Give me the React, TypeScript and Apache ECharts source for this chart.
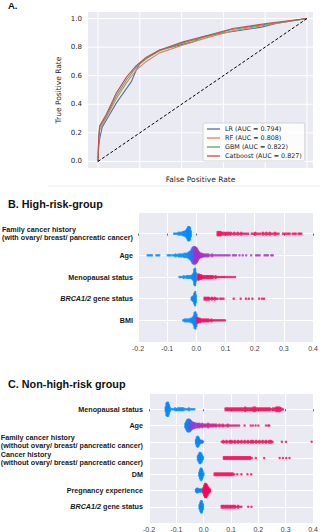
import React, { useEffect, useRef } from 'react';
import * as echarts from 'echarts';

// ---------- Panel A: ROC curves ----------
const ROC_NAMES = ['LR (AUC = 0.794)', 'RF (AUC = 0.808)', 'GBM (AUC = 0.822)', 'Catboost (AUC = 0.827)'];
const ROC_COLORS = ['#4C72B0', '#DD8452', '#55A868', '#C44E52'];
const ROC_TICKS = [0, 0.2, 0.4, 0.6, 0.8, 1.0];

const LR_FPR = [0, 0.003, 0.008, 0.02, 0.04, 0.088, 0.136, 0.16, 0.183, 0.2, 0.231, 0.295, 0.39, 0.455, 0.502, 0.582, 0.74, 0.788, 0.852, 1];
const LR_TPR = [0, 0.1, 0.16, 0.24, 0.29, 0.41, 0.51, 0.56, 0.64, 0.686, 0.72, 0.78, 0.814, 0.837, 0.872, 0.895, 0.93, 0.942, 0.965, 1];

const RF_FPR = [0, 0.003, 0.008, 0.04, 0.088, 0.136, 0.183, 0.231, 0.295, 0.407, 0.518, 0.646, 0.805, 1];
const RF_TPR = [0, 0.15, 0.22, 0.31, 0.44, 0.55, 0.64, 0.7, 0.76, 0.815, 0.865, 0.915, 0.955, 1];

const GBM_FPR = [0, 0.003, 0.008, 0.04, 0.088, 0.136, 0.183, 0.231, 0.295, 0.407, 0.518, 0.646, 0.805, 1];
const GBM_TPR = [0, 0.16, 0.24, 0.32, 0.46, 0.57, 0.66, 0.72, 0.775, 0.83, 0.875, 0.925, 0.96, 1];

const CAT_FPR = [0, 0.003, 0.008, 0.04, 0.088, 0.136, 0.183, 0.231, 0.295, 0.407, 0.518, 0.646, 0.805, 1];
const CAT_TPR = [0, 0.17, 0.25, 0.33, 0.48, 0.59, 0.67, 0.73, 0.78, 0.837, 0.88, 0.93, 0.965, 1];

// ---------- Panels B and C: SHAP beeswarms ----------
// Each point: [shap value, number of stacked dots, feature value 0 (low) .. 1 (high)]
const HIGH_FEATURES = [
  'Family cancer history\n(with ovary/ breast/ pancreatic cancer)',
  'Age',
  'Menopausal status',
  'BRCA1/2 gene status',
  'BMI',
];

const HIGH_FAMILY = [
  [-0.076, 1, 0], [-0.071, 1, 0], [-0.066, 1, 0], [-0.061, 2, 0], [-0.056, 2, 0], [-0.051, 2, 0],
  [-0.046, 3, 0], [-0.042, 3, 0], [-0.038, 4, 0], [-0.034, 5, 0], [-0.031, 7, 0], [-0.028, 9, 0],
  [-0.025, 9, 0], [-0.022, 8, 0], [-0.019, 4, 0],
  [0.073, 3, 1], [0.078, 3, 1], [0.083, 3, 1], [0.088, 2, 1], [0.094, 2, 1], [0.1, 2, 1], [0.106, 2, 1],
  [0.112, 2, 1], [0.118, 2, 1], [0.124, 1, 1], [0.13, 2, 1], [0.136, 1, 1], [0.142, 2, 1], [0.148, 1, 1],
  [0.154, 2, 1], [0.16, 1, 1], [0.166, 1, 1], [0.172, 1, 1], [0.178, 1, 1], [0.19, 1, 1], [0.196, 1, 1],
  [0.202, 2, 1], [0.208, 1, 1], [0.214, 1, 1], [0.22, 1, 1], [0.228, 2, 1], [0.234, 1, 1], [0.24, 2, 1],
  [0.246, 1, 1], [0.252, 2, 1], [0.258, 1, 1], [0.264, 1, 1], [0.27, 2, 1], [0.276, 1, 1], [0.282, 1, 1],
  [0.297, 1, 1], [0.303, 1, 1], [0.309, 1, 1], [0.315, 1, 1], [0.32, 1, 1], [0.33, 1, 1], [0.336, 1, 1],
  [0.341, 1, 1], [0.35, 1, 1], [0.355, 1, 1], [0.36, 1, 1],
];

const HIGH_AGE = [
  [-0.167, 1, 0], [-0.162, 1, 0], [-0.157, 1, 0], [-0.152, 1, 0], [-0.137, 1, 0], [-0.132, 1, 0], [-0.127, 1, 0],
  [-0.098, 1, 0], [-0.093, 1, 0], [-0.088, 1, 0],
  [-0.081, 1, 0], [-0.076, 1, 0], [-0.071, 2, 0], [-0.066, 1, 0], [-0.061, 2, 0],
  [-0.056, 2, 0], [-0.051, 2, 0], [-0.046, 2, 0], [-0.041, 3, 0], [-0.036, 3, 0], [-0.031, 3, 0.05],
  [-0.027, 4, 0.05], [-0.023, 5, 0.1], [-0.019, 6, 0.1], [-0.016, 8, 0.15], [-0.013, 10, 0.2],
  [-0.01, 11, 0.3], [-0.007, 11, 0.4], [-0.004, 11, 0.5], [-0.001, 10, 0.55], [0.002, 9, 0.6],
  [0.005, 7, 0.6], [0.008, 5, 0.6], [0.011, 4, 0.6], [0.015, 3, 0.6], [0.019, 3, 0.6], [0.023, 2, 0.6],
  [0.027, 2, 0.6], [0.032, 2, 0.6], [0.037, 2, 0.6], [0.042, 2, 0.6], [0.048, 1, 0.6], [0.054, 2, 0.6],
  [0.06, 1, 0.6], [0.066, 1, 0.6], [0.072, 1, 0.6], [0.078, 1, 0.6], [0.084, 1, 0.6], [0.09, 1, 0.6],
  [0.096, 1, 0.6], [0.102, 1, 0.6], [0.108, 1, 0.6], [0.114, 1, 0.6],
  [0.125, 1, 0.6], [0.13, 1, 0.6], [0.136, 1, 0.6], [0.148, 1, 0.6], [0.159, 1, 0.6], [0.171, 1, 0.6],
  [0.188, 1, 0.6], [0.205, 1, 0.6], [0.211, 1, 0.6], [0.217, 1, 0.6], [0.234, 1, 0.6], [0.24, 1, 0.6],
  [0.245, 1, 0.6], [0.257, 1, 0.6], [0.262, 1, 0.6],
];

const HIGH_MENOPAUSE = [
  [-0.058, 1, 0], [-0.053, 1, 0], [-0.048, 1, 0], [-0.043, 2, 0], [-0.038, 1, 0], [-0.033, 2, 0],
  [-0.028, 2, 0], [-0.023, 2, 0], [-0.018, 2, 0], [-0.014, 3, 0], [-0.01, 5, 0], [-0.007, 10, 0],
  [-0.004, 11, 0], [-0.002, 6, 0],
  [0.005, 4, 1], [0.009, 4, 1], [0.013, 3, 1], [0.017, 3, 1], [0.021, 2, 1], [0.026, 2, 1], [0.031, 2, 1],
  [0.036, 2, 1], [0.041, 2, 1], [0.046, 2, 1], [0.051, 2, 1], [0.056, 2, 1], [0.061, 1, 1], [0.066, 2, 1],
  [0.071, 1, 1], [0.076, 1, 1], [0.081, 1, 1], [0.086, 1, 1], [0.091, 1, 1], [0.096, 1, 1], [0.101, 1, 1],
  [0.107, 1, 1], [0.113, 1, 1], [0.119, 1, 1], [0.126, 1, 1], [0.133, 1, 1],
];

const HIGH_BRCA = [
  [-0.016, 2, 0], [-0.013, 3, 0], [-0.01, 4, 0], [-0.007, 7, 0], [-0.004, 9, 0], [-0.002, 5, 0],
  [0.028, 2, 1], [0.033, 2, 1], [0.038, 2, 1], [0.043, 2, 1], [0.048, 1, 1], [0.053, 2, 1], [0.058, 1, 1],
  [0.063, 2, 1], [0.068, 1, 1], [0.073, 1, 1], [0.082, 1, 1], [0.087, 1, 1], [0.093, 1, 1],
  [0.128, 1, 1], [0.152, 1, 1], [0.17, 1, 1], [0.18, 1, 1], [0.192, 1, 1], [0.215, 1, 1], [0.225, 1, 1],
  [0.232, 1, 1],
];

const HIGH_BMI = [
  [-0.045, 1, 0], [-0.04, 2, 0], [-0.035, 2, 0], [-0.03, 2, 0], [-0.025, 2, 0], [-0.02, 3, 0],
  [-0.016, 3, 0], [-0.012, 4, 0], [-0.009, 6, 0], [-0.006, 10, 0], [-0.003, 11, 0], [0.0, 8, 0.3],
  [0.004, 4, 1], [0.008, 3, 1], [0.012, 3, 1], [0.017, 2, 1], [0.022, 2, 1], [0.027, 2, 1], [0.032, 2, 1],
  [0.037, 2, 1], [0.042, 2, 1], [0.047, 1, 1], [0.052, 2, 1], [0.057, 1, 1], [0.062, 1, 1], [0.067, 1, 1],
  [0.072, 1, 1], [0.077, 1, 1], [0.082, 1, 1], [0.087, 1, 1], [0.092, 1, 1], [0.098, 1, 1],
];

const HIGH_ROWS = [HIGH_FAMILY, HIGH_AGE, HIGH_MENOPAUSE, HIGH_BRCA, HIGH_BMI];

const NONHIGH_FEATURES = [
  'Menopausal status',
  'Age',
  'Family cancer history\n(without ovary/ breast/ pancreatic cancer)',
  'Cancer history\n(without ovary/ breast/ pancreatic cancer)',
  'DM',
  'Pregnancy experience',
  'BRCA1/2 gene status',
];

const NONHIGH_MENOPAUSE = [
  [-0.139, 3, 0], [-0.136, 8, 0], [-0.133, 9, 0], [-0.13, 9, 0], [-0.127, 6, 0], [-0.124, 3, 0],
  [-0.119, 1, 0], [-0.114, 1, 0], [-0.109, 1, 0], [-0.104, 2, 0], [-0.099, 1, 0], [-0.094, 2, 0],
  [-0.089, 2, 0], [-0.084, 2, 0], [-0.079, 2, 0], [-0.074, 2, 0], [-0.069, 1, 0], [-0.064, 1, 0],
  [-0.059, 1, 0], [-0.054, 2, 0], [-0.049, 1, 0], [-0.044, 1, 0], [-0.039, 1, 0], [-0.034, 1, 0],
  [0.08, 2, 1], [0.086, 2, 1], [0.092, 2, 1], [0.098, 2, 1], [0.104, 2, 1], [0.11, 2, 1], [0.116, 2, 1],
  [0.122, 2, 1], [0.128, 2, 1], [0.134, 2, 1], [0.14, 2, 1], [0.146, 2, 1], [0.152, 3, 1], [0.158, 2, 1],
  [0.164, 2, 1], [0.17, 2, 1], [0.176, 2, 1], [0.182, 3, 1], [0.188, 3, 1], [0.194, 2, 1], [0.2, 2, 1],
  [0.206, 2, 1], [0.212, 2, 1], [0.218, 2, 1], [0.224, 2, 1], [0.23, 2, 1], [0.236, 2, 1], [0.242, 2, 1],
  [0.248, 1, 1], [0.254, 2, 1], [0.26, 2, 1], [0.266, 3, 1], [0.272, 3, 1], [0.278, 3, 1], [0.284, 2, 1],
  [0.29, 1, 1],
];

const NONHIGH_AGE = [
  [-0.067, 3, 0], [-0.064, 5, 0], [-0.061, 7, 0], [-0.058, 8, 0.05], [-0.055, 8, 0.1], [-0.052, 8, 0.2],
  [-0.049, 7, 0.3], [-0.046, 6, 0.35], [-0.042, 5, 0.4], [-0.038, 4, 0.45], [-0.034, 4, 0.5], [-0.03, 3, 0.5],
  [-0.025, 3, 0.55], [-0.02, 3, 0.6], [-0.015, 3, 0.6], [-0.01, 2, 0.65], [-0.005, 3, 0.65], [0.0, 2, 0.7],
  [0.005, 2, 0.7], [0.01, 2, 0.75], [0.016, 3, 0.75], [0.022, 2, 0.8], [0.028, 2, 0.8], [0.034, 2, 0.8],
  [0.04, 2, 0.85], [0.046, 2, 0.85], [0.052, 1, 0.85], [0.058, 2, 0.85], [0.064, 1, 0.9], [0.07, 2, 0.9],
  [0.076, 1, 0.9], [0.082, 1, 0.9], [0.088, 2, 0.9], [0.094, 1, 0.9], [0.1, 1, 0.9], [0.106, 1, 0.9],
  [0.112, 1, 0.9], [0.118, 1, 0.9], [0.124, 1, 0.9], [0.13, 1, 0.9],
  [0.15, 1, 0.9], [0.172, 1, 0.9], [0.18, 1, 0.9], [0.19, 1, 0.9], [0.2, 1, 0.9], [0.228, 1, 0.9],
  [0.236, 1, 0.9], [0.24, 1, 0.9],
];

const NONHIGH_FAMILY = [
  [-0.028, 3, 0], [-0.025, 6, 0], [-0.022, 7, 0], [-0.019, 6, 0], [-0.016, 4, 0], [-0.013, 2, 0.1],
  [-0.01, 2, 0.15], [-0.006, 2, 0.2], [-0.002, 1, 0.2],
  [0.066, 1, 1], [0.072, 2, 1], [0.078, 1, 1], [0.084, 2, 1], [0.09, 1, 1], [0.096, 2, 1], [0.102, 2, 1],
  [0.108, 1, 1], [0.114, 2, 1], [0.12, 1, 1], [0.126, 2, 1], [0.132, 1, 1], [0.138, 2, 1], [0.144, 1, 1],
  [0.15, 2, 1], [0.156, 1, 1], [0.162, 2, 1], [0.168, 1, 1], [0.174, 2, 1], [0.18, 2, 1], [0.186, 1, 1],
  [0.192, 2, 1], [0.198, 1, 1], [0.204, 2, 1], [0.21, 1, 1], [0.216, 2, 1], [0.222, 1, 1], [0.228, 2, 1],
  [0.234, 1, 1], [0.24, 2, 1], [0.246, 2, 1], [0.252, 1, 1],
  [0.286, 1, 1], [0.301, 1, 1], [0.395, 1, 1],
];

const NONHIGH_CANCER = [
  [-0.021, 3, 0], [-0.018, 5, 0], [-0.015, 7, 0], [-0.012, 7, 0], [-0.009, 6, 0], [-0.006, 4, 0],
  [-0.003, 2, 0],
  [0.074, 2, 1], [0.08, 2, 1], [0.086, 2, 1], [0.092, 2, 1], [0.098, 2, 1], [0.104, 2, 1], [0.11, 2, 1],
  [0.116, 2, 1], [0.122, 2, 1], [0.128, 2, 1], [0.134, 2, 1], [0.14, 2, 1], [0.146, 2, 1], [0.152, 2, 1],
  [0.158, 2, 1], [0.164, 2, 1], [0.17, 2, 1], [0.176, 1, 1],
  [0.191, 1, 1], [0.221, 1, 1], [0.278, 1, 1], [0.29, 1, 1], [0.302, 1, 1], [0.314, 1, 1],
];

const NONHIGH_DM = [
  [-0.016, 3, 0], [-0.013, 6, 0], [-0.01, 8, 0], [-0.007, 7, 0], [-0.004, 5, 0], [-0.001, 2, 0],
  [0.04, 2, 1], [0.046, 2, 1], [0.052, 2, 1], [0.058, 2, 1], [0.064, 2, 1], [0.07, 2, 1], [0.076, 2, 1],
  [0.082, 2, 1], [0.088, 2, 1], [0.094, 2, 1], [0.1, 2, 1], [0.106, 2, 1], [0.112, 1, 1],
  [0.123, 1, 1], [0.138, 1, 1], [0.16, 1, 1], [0.174, 1, 1],
];

const NONHIGH_PREGNANCY = [
  [-0.028, 2, 0], [-0.025, 3, 0], [-0.022, 3, 0], [-0.019, 2, 0], [-0.016, 2, 0], [-0.013, 2, 0],
  [-0.01, 2, 0], [-0.007, 2, 0], [-0.004, 2, 0],
  [-0.001, 4, 1], [0.002, 7, 1], [0.005, 9, 1], [0.008, 9, 1], [0.011, 8, 1], [0.014, 6, 1],
  [0.017, 4, 1], [0.02, 3, 1], [0.023, 2, 1],
];

const NONHIGH_BRCA = [
  [-0.015, 3, 0], [-0.012, 6, 0], [-0.009, 8, 0], [-0.006, 7, 0], [-0.003, 4, 0],
  [0.066, 2, 1], [0.072, 2, 1], [0.078, 2, 1], [0.084, 2, 1], [0.09, 2, 1], [0.096, 2, 1], [0.102, 2, 1],
  [0.108, 2, 1], [0.114, 2, 1], [0.12, 1, 1], [0.126, 2, 1], [0.132, 1, 1], [0.138, 1, 1],
  [0.163, 1, 1], [0.175, 1, 1],
];

const NONHIGH_ROWS = [
  NONHIGH_MENOPAUSE, NONHIGH_AGE, NONHIGH_FAMILY, NONHIGH_CANCER, NONHIGH_DM, NONHIGH_PREGNANCY, NONHIGH_BRCA,
];

// ---------- helpers ----------
const zip = (xs: number[], ys: number[]) => xs.map((x, i) => [x, ys[i]]);

// Stack the dots of each row symmetrically around the row's centre line.
function swarm(rows: number[][][], dy: number) {
  const out: number[][] = [];
  rows.forEach((pts, r) => {
    pts.forEach(([x, n, f]) => {
      for (let k = 0; k < n; k++) out.push([x, r + (k - (n - 1) / 2) * dy, f]);
    });
  });
  return out;
}

const LABEL_FONT = '"Liberation Sans", Arial, sans-serif';
const labelRich = {
  b: { fontFamily: LABEL_FONT, fontWeight: 'bold', fontSize: 7.2, color: '#1a1a1a' },
  i: { fontFamily: LABEL_FONT, fontWeight: 'bold', fontStyle: 'italic', fontSize: 7.2, color: '#1a1a1a' },
  l: { fontFamily: LABEL_FONT, fontWeight: 'bold', fontSize: 7.2, color: '#1a1a1a', align: 'left', lineHeight: 8 },
};

function featureLabel(name: string) {
  if (name.includes('\n')) return name.split('\n').map((s) => `{l|${s}}`).join('\n');
  if (name.startsWith('BRCA1/2')) return `{i|BRCA1/2}{b|${name.slice(7)}}`;
  return `{b|${name}}`;
}

function shapAxes(gridIndex: number, features: string[], margin: number) {
  const xAxis = {
    type: 'value', gridIndex, min: -0.2, max: 0.4, interval: 0.1,
    axisLine: { show: false },
    axisTick: { show: true, length: 2, lineStyle: { color: '#666' } },
    axisLabel: {
      margin: 3, fontSize: 7, color: '#444', fontFamily: LABEL_FONT,
      formatter: (v: number) => (Math.abs(v) < 1e-9 ? 0 : v).toFixed(1),
    },
    splitLine: { show: true, lineStyle: { color: '#ffffff', width: 1 } },
  };
  const yAxis = {
    type: 'value', gridIndex, min: -1, max: features.length, interval: 1, inverse: true,
    axisLine: { show: false }, axisTick: { show: false },
    axisLabel: {
      margin,
      formatter: (v: number) => {
        const i = Math.round(v);
        return Math.abs(v - i) < 1e-6 && features[i] ? featureLabel(features[i]) : '';
      },
      rich: labelRich,
    },
    splitLine: { show: true, lineStyle: { color: '#ffffff', width: 1 } },
  };
  return { xAxis, yAxis };
}

// White grid lines and y tick labels of the ROC panel, placed through the panel's axes.
function rocGridItem(params: any, api: any) {
  const cs = params.coordSys;
  const v = api.value(0);
  const [px, py] = api.coord([v, v]);
  return {
    type: 'group',
    children: [
      { type: 'line', shape: { x1: px, y1: cs.y, x2: px, y2: cs.y + cs.height }, style: { stroke: '#ffffff', lineWidth: 1 } },
      { type: 'line', shape: { x1: cs.x, y1: py, x2: cs.x + cs.width, y2: py }, style: { stroke: '#ffffff', lineWidth: 1 } },
      {
        type: 'text', x: cs.x - 6, y: py,
        style: {
          text: v.toFixed(1), align: 'right', verticalAlign: 'middle',
          fontFamily: 'DejaVu Sans', fontSize: 7, fill: '#262626',
        },
      },
    ],
  };
}

export default function App() {
  const ref = useRef<HTMLDivElement>(null);

  useEffect(() => {
    if (!ref.current) return;
    const chart = echarts.init(ref.current, null, { renderer: 'svg' });

    const high = shapAxes(1, HIGH_FEATURES, 5);
    const nonHigh = shapAxes(2, NONHIGH_FEATURES, 6);
    const rocSeries = [
      zip(LR_FPR, LR_TPR), zip(RF_FPR, RF_TPR), zip(GBM_FPR, GBM_TPR), zip(CAT_FPR, CAT_TPR),
    ].map((data, i) => ({
      name: ROC_NAMES[i], type: 'line', xAxisIndex: 0, yAxisIndex: 0, data,
      symbol: 'none', z: 3, lineStyle: { color: ROC_COLORS[i], width: 1.1 },
      itemStyle: { color: ROC_COLORS[i] },
    }));

    const gridBase = { show: true, backgroundColor: '#EAEAF2', borderWidth: 0, outerBoundsMode: 'none', containLabel: false };

    const option = {
      animation: false,
      backgroundColor: '#ffffff',
      grid: [
        { ...gridBase, left: 88, top: 12, width: 225, height: 156 },
        { ...gridBase, left: 138, top: 212, width: 175, height: 130 },
        { ...gridBase, left: 149, top: 393, width: 164, height: 130 },
      ],
      xAxis: [
        {
          type: 'value', gridIndex: 0, min: -0.048, max: 1.029,
          axisLine: { show: false }, axisTick: { show: false }, axisLabel: { show: false }, splitLine: { show: false },
          name: 'False Positive Rate', nameLocation: 'middle', nameGap: 7,
          nameTextStyle: { fontFamily: 'DejaVu Sans', fontSize: 7.5, color: '#262626' },
        },
        high.xAxis,
        nonHigh.xAxis,
      ],
      yAxis: [
        {
          type: 'value', gridIndex: 0, min: -0.046, max: 1.046,
          axisLine: { show: false }, axisTick: { show: false }, splitLine: { show: false }, axisLabel: { show: false },
          name: 'True Positive Rate', nameLocation: 'middle', nameGap: 26, nameRotate: 90,
          nameTextStyle: { fontFamily: 'DejaVu Sans', fontSize: 7.5, color: '#262626' },
        },
        high.yAxis,
        nonHigh.yAxis,
      ],
      legend: {
        data: ROC_NAMES, orient: 'vertical', left: 203, top: 123, icon: 'rect',
        itemWidth: 13, itemHeight: 1.3, itemGap: 3,
        backgroundColor: 'rgba(255,255,255,0.85)', borderColor: '#d4d4d4', borderWidth: 1, borderRadius: 2,
        padding: [3, 3, 2, 4],
        textStyle: { fontFamily: 'DejaVu Sans', fontSize: 6.4, color: '#262626' },
      },
      visualMap: [{
        type: 'continuous', show: false, seriesIndex: [6, 7], dimension: 2, min: 0, max: 1,
        inRange: { color: ['#008bfb', '#9438d6', '#ff0052'] },
      }],
      graphic: [
        { type: 'text', left: 8, top: 0, style: { text: 'A.', font: 'bold 9.5px "Liberation Sans"', fill: '#111' } },
        { type: 'line', shape: { x1: 48, y1: 186, x2: 320, y2: 186 }, style: { stroke: '#ececec', lineWidth: 1 } },
        { type: 'text', left: 8, top: 198.5, style: { text: 'B. High-risk-group', font: 'bold 10.8px "Liberation Sans"', fill: '#111' } },
        { type: 'text', left: 8, top: 378, style: { text: 'C. Non-high-risk group', font: 'bold 10.8px "Liberation Sans"', fill: '#111' } },
      ],
      series: [
        {
          type: 'custom', xAxisIndex: 0, yAxisIndex: 0, data: ROC_TICKS.map((v) => [v, v]),
          renderItem: rocGridItem, z: 1, silent: true, clip: false,
        },
        ...rocSeries,
        {
          type: 'line', xAxisIndex: 0, yAxisIndex: 0, data: [[0, 0], [1, 1]], symbol: 'none', z: 4,
          lineStyle: { color: '#000', width: 1, type: [3, 2] },
        },
        {
          type: 'scatter', xAxisIndex: 1, yAxisIndex: 1, data: swarm(HIGH_ROWS, 0.075),
          symbolSize: 2.5, z: 3,
        },
        {
          type: 'scatter', xAxisIndex: 2, yAxisIndex: 2, data: swarm(NONHIGH_ROWS, 0.1),
          symbolSize: 2.5, z: 3,
        },
      ],
    };

    chart.setOption(option as any);
    return () => chart.dispose();
  }, []);

  return <div ref={ref} style={{ position: 'absolute', left: 0, top: 0, width: 320, height: 532 }} />;
}
